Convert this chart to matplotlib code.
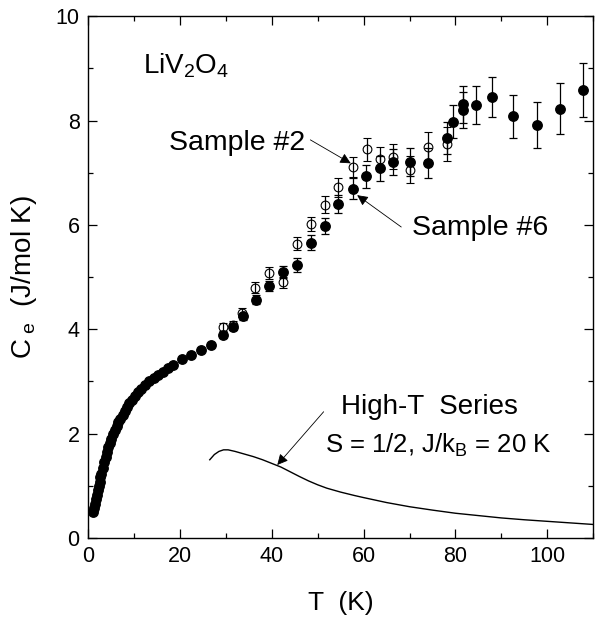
import matplotlib
matplotlib.use("Agg")
import matplotlib.pyplot as plt
from matplotlib.ticker import MultipleLocator

plt.rcParams['font.family'] = ['Liberation Sans', 'DejaVu Sans']
plt.rcParams['mathtext.fontset'] = 'custom'
plt.rcParams['mathtext.rm'] = 'Liberation Sans'
plt.rcParams['mathtext.it'] = 'Liberation Sans'
plt.rcParams['mathtext.default'] = 'regular'

# Sample #6, low-T dense data (no visible error bars)
lowT_T = [1.1, 1.3, 1.5, 1.7, 1.9, 2.1, 2.3, 2.5, 2.7, 2.9, 3.2, 3.5, 3.8, 4.1, 4.4, 4.7,
          5.0, 5.4, 5.8, 6.2, 6.6, 7.0, 7.5, 8.0, 8.5, 9.0, 9.6, 10.2, 10.9, 11.6, 12.4,
          13.3, 14.3, 15.3, 16.4, 17.5, 18.5, 20.5, 22.5, 24.6, 26.8]
lowT_C = [0.50, 0.58, 0.66, 0.74, 0.82, 0.92, 1.00, 1.08, 1.16, 1.23, 1.34, 1.45, 1.55,
          1.65, 1.74, 1.82, 1.90, 1.99, 2.07, 2.14, 2.22, 2.29, 2.36, 2.44, 2.51, 2.58,
          2.65, 2.72, 2.79, 2.86, 2.93, 3.00, 3.07, 3.13, 3.19, 3.25, 3.31, 3.44, 3.51,
          3.60, 3.70]

# Sample #6, with error bars
s6_T = [29.3, 31.6, 33.8, 36.5, 39.5, 42.5, 45.6, 48.5, 51.6, 54.5, 57.6, 60.5, 63.6,
        66.5, 70.1, 74.1, 78.1, 79.4, 81.6, 81.6, 84.5, 87.9, 92.6, 97.7, 102.7, 107.8]
s6_C = [3.89, 4.04, 4.25, 4.57, 4.83, 5.10, 5.23, 5.66, 5.98, 6.40, 6.69, 6.93, 7.09,
        7.20, 7.20, 7.18, 7.67, 7.98, 8.20, 8.31, 8.30, 8.45, 8.08, 7.92, 8.23, 8.58]
s6_err = [0.06, 0.06, 0.07, 0.09, 0.10, 0.12, 0.13, 0.14, 0.16, 0.18, 0.20, 0.22, 0.24,
          0.25, 0.27, 0.29, 0.31, 0.32, 0.34, 0.35, 0.37, 0.39, 0.41, 0.44, 0.48, 0.52]

# Sample #2 (open circles)
s2_T = [29.3, 31.6, 33.6, 36.3, 39.5, 42.5, 45.6, 48.5, 51.6, 54.5, 57.6, 60.7, 63.6,
        66.5, 70.1, 74.1, 78.1]
s2_C = [4.04, 4.08, 4.32, 4.80, 5.08, 4.90, 5.64, 6.02, 6.39, 6.72, 7.11, 7.45, 7.27,
        7.31, 7.06, 7.50, 7.55]
s2_err = [0.08, 0.08, 0.09, 0.10, 0.11, 0.11, 0.13, 0.14, 0.16, 0.18, 0.20, 0.22, 0.22,
          0.24, 0.26, 0.29, 0.32]

# High-T series curve (S = 1/2, J/kB = 20 K)
hts_T = [26.5, 27.5, 28.5, 29.5, 30.5, 32, 34, 36, 38, 40, 42, 44, 46, 48, 50, 52, 55,
         58, 60, 65, 70, 75, 80, 85, 90, 95, 100, 105, 110]
hts_C = [1.50, 1.60, 1.66, 1.69, 1.69, 1.66, 1.61, 1.56, 1.50, 1.43, 1.36, 1.27, 1.18,
         1.095, 1.02, 0.955, 0.88, 0.815, 0.775, 0.68, 0.60, 0.535, 0.475, 0.43, 0.385,
         0.35, 0.32, 0.29, 0.26]

fig = plt.figure(figsize=(5.95, 6.22), dpi=100)
ax = fig.add_axes([0.148, 0.135, 0.849, 0.839])

ax.plot(hts_T, hts_C, color='black', lw=1.0)

ax.errorbar(s2_T, s2_C, yerr=s2_err, fmt='o', mfc='none', mec='black', mew=0.8,
            ms=6.3, ecolor='black', elinewidth=0.9, capsize=2.6, capthick=0.9, zorder=3)
ax.errorbar(s6_T, s6_C, yerr=s6_err, fmt='o', color='black', ms=6.8,
            ecolor='black', elinewidth=0.9, capsize=2.6, capthick=0.9, zorder=4)
ax.plot(lowT_T, lowT_C, 'o', color='black', ms=6.8, zorder=4)

ax.set_xlim(0, 110)
ax.set_ylim(0, 10)
ax.xaxis.set_major_locator(MultipleLocator(20))
ax.xaxis.set_minor_locator(MultipleLocator(10))
ax.yaxis.set_major_locator(MultipleLocator(2))
ax.yaxis.set_minor_locator(MultipleLocator(1))
ax.tick_params(which='both', direction='in', top=True, right=True, labelsize=15.5, width=0.9)
ax.tick_params(which='major', length=6.5, pad=6)
ax.tick_params(which='minor', length=3.8)
for s in ax.spines.values():
    s.set_linewidth(1.0)

ax.set_xlabel('T  (K)', fontsize=19, labelpad=17)
ax.set_ylabel(r'C$_{\ e}$  (J/mol K)', fontsize=20, labelpad=12)

ax.text(11.9, 8.91, 'LiV$_2$O$_4$', fontsize=20, ha='left', va='baseline')
ax.text(17.7, 7.43, 'Sample #2', fontsize=20.5, ha='left', va='baseline')
ax.text(70.6, 5.80, 'Sample #6', fontsize=20.5, ha='left', va='baseline')
ax.text(55.1, 2.38, 'High-T  Series', fontsize=20, ha='left', va='baseline')
ax.text(51.7, 1.63, 'S = 1/2, J/k$_B$ = 20 K', fontsize=18.5, ha='left', va='baseline')

ap = dict(arrowstyle='-|>', color='black', lw=0.6, mutation_scale=16, shrinkA=0, shrinkB=0)
ax.annotate('', xy=(57.2, 7.18), xytext=(48.4, 7.63), arrowprops=ap)
ax.annotate('', xy=(58.6, 6.57), xytext=(68.2, 5.96), arrowprops=ap)
ax.annotate('', xy=(41.2, 1.40), xytext=(51.3, 2.42), arrowprops=ap)

fig.savefig('out.png', dpi=100)
